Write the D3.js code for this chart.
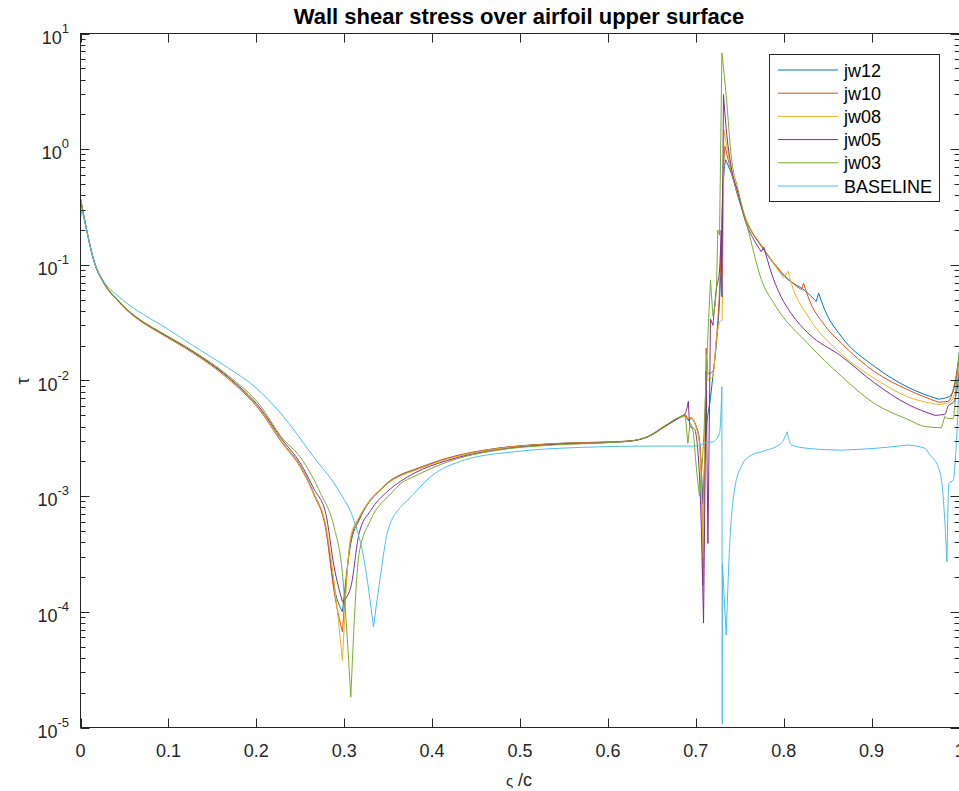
<!DOCTYPE html>
<html>
<head>
<meta charset="utf-8">
<script src="https://cdn.jsdelivr.net/npm/d3@7"></script>
<style>
  html, body { margin: 0; padding: 0; background: #fff; }
  svg { display: block; font-family: "Liberation Sans", Arial, Helvetica, sans-serif; }
</style>
</head>
<body>
<svg id="chart" width="959" height="791"></svg>
<script>
// ---------------- DATA ----------------
const seriesNames = ["jw12", "jw10", "jw08", "jw05", "jw03", "BASELINE"];
const seriesColors = ["#0072BD", "#D95319", "#EDB120", "#7E2F8E", "#77AC30", "#4DBEEE"];
const xTicks = [0, 0.1, 0.2, 0.3, 0.4, 0.5, 0.6, 0.7, 0.8, 0.9, 1];
const xTickLabels = ["0", "0.1", "0.2", "0.3", "0.4", "0.5", "0.6", "0.7", "0.8", "0.9", "1"];
const yExponents = [-5, -4, -3, -2, -1, 0, 1];

const jw12 = [[0,0.37],[0.0076,0.189],[0.015,0.110],[0.0266,0.0698],[0.0418,0.0498],[0.053,0.0407],[0.072,0.0315],[0.091,0.0258],[0.129,0.0173],[0.167,0.0107],[0.205,0.0055],[0.2278,0.00305],[0.2506,0.0018],[0.2657,0.00105],[0.279,0.00054],[0.2885,0.000164],[0.298,0.0001],[0.3075,0.00039],[0.317,0.00062],[0.330,0.00092],[0.3417,0.00113],[0.3493,0.00129],[0.3645,0.00152],[0.3796,0.00168],[0.4176,0.00212],[0.4746,0.00259],[0.5315,0.00282],[0.607,0.00295],[0.6264,0.0030],[0.6454,0.00326],[0.6644,0.00398],[0.6834,0.00486],[0.688,0.0050],[0.6915,0.0045],[0.6948,0.0047],[0.7005,0.00398],[0.7042,0.0030],[0.7081,0.00086],[0.7118,0.0035],[0.7167,0.0071],[0.7195,0.011],[0.7232,0.02],[0.727,0.05],[0.7289,0.11],[0.7308,0.42],[0.7338,0.81],[0.7403,0.62],[0.748,0.39],[0.7555,0.262],[0.778,0.133],[0.805,0.0745],[0.824,0.06],[0.837,0.0483],[0.8397,0.057],[0.8466,0.041],[0.8656,0.024],[0.9035,0.0132],[0.9415,0.00873],[0.9757,0.0069],[0.9871,0.0072],[0.9928,0.0081],[1.0,0.018]];

const jw10 = [[0,0.375],[0.0076,0.19],[0.015,0.109],[0.0266,0.069],[0.0418,0.0494],[0.053,0.0403],[0.072,0.0312],[0.091,0.0255],[0.129,0.0171],[0.167,0.0105],[0.205,0.0054],[0.2278,0.0030],[0.2506,0.00175],[0.2657,0.00102],[0.279,0.00052],[0.2885,0.00015],[0.298,0.000067],[0.3075,0.00042],[0.317,0.00064],[0.330,0.00094],[0.3417,0.00115],[0.3493,0.00131],[0.3645,0.00154],[0.3796,0.0017],[0.4176,0.00214],[0.4746,0.0026],[0.5315,0.00283],[0.607,0.00296],[0.6264,0.00301],[0.6454,0.00327],[0.6644,0.004],[0.6834,0.0049],[0.688,0.0051],[0.6915,0.0046],[0.6948,0.0048],[0.7005,0.004],[0.7042,0.003],[0.707,0.001],[0.7081,0.00017],[0.7118,0.019],[0.7138,0.0114],[0.7195,0.012],[0.7232,0.022],[0.727,0.06],[0.7289,0.15],[0.7308,0.5],[0.7331,1.06],[0.7403,0.64],[0.748,0.40],[0.7555,0.265],[0.778,0.135],[0.805,0.0755],[0.820,0.061],[0.8227,0.069],[0.8277,0.053],[0.8466,0.03],[0.8656,0.021],[0.9035,0.0119],[0.9415,0.0083],[0.9757,0.0065],[0.9871,0.0066],[0.9928,0.0083],[1.0,0.016]];

const jw08 = [[0,0.37],[0.0076,0.19],[0.015,0.109],[0.0266,0.0692],[0.0418,0.0496],[0.053,0.0405],[0.072,0.0313],[0.091,0.0256],[0.129,0.0172],[0.167,0.0106],[0.205,0.0055],[0.2278,0.00305],[0.2506,0.00178],[0.2657,0.00104],[0.279,0.00056],[0.2885,0.00018],[0.298,0.000038],[0.3075,0.00045],[0.317,0.00066],[0.330,0.00093],[0.3417,0.00113],[0.3493,0.00128],[0.3645,0.0015],[0.3796,0.00166],[0.4176,0.0021],[0.4746,0.00257],[0.5315,0.0028],[0.607,0.00294],[0.6264,0.003],[0.6454,0.00325],[0.6644,0.00395],[0.6834,0.0048],[0.688,0.0049],[0.6915,0.0047],[0.6948,0.0047],[0.7005,0.0039],[0.7042,0.0028],[0.7081,0.0003],[0.7118,0.017],[0.7138,0.01],[0.7195,0.011],[0.724,0.025],[0.7289,0.033],[0.7297,0.033],[0.732,1.48],[0.7403,0.66],[0.748,0.41],[0.7555,0.27],[0.778,0.136],[0.8,0.077],[0.8049,0.088],[0.8087,0.069],[0.8277,0.036],[0.8656,0.017],[0.9035,0.0104],[0.9415,0.0072],[0.9757,0.0062],[0.9871,0.0064],[0.995,0.0078],[1.0,0.014]];

const jw05 = [[0,0.37],[0.0076,0.19],[0.015,0.11],[0.0266,0.07],[0.0418,0.05],[0.053,0.0409],[0.072,0.0317],[0.091,0.026],[0.129,0.0175],[0.167,0.0109],[0.205,0.0057],[0.2278,0.0032],[0.2506,0.0019],[0.2657,0.00115],[0.279,0.00071],[0.2885,0.000245],[0.298,0.000122],[0.3075,0.000164],[0.317,0.00048],[0.330,0.00075],[0.3493,0.0011],[0.3645,0.00135],[0.3796,0.00158],[0.4176,0.00204],[0.4746,0.00252],[0.5315,0.00278],[0.607,0.00293],[0.6264,0.003],[0.6454,0.00326],[0.6644,0.004],[0.6834,0.0049],[0.688,0.0052],[0.6915,0.0066],[0.6935,0.004],[0.6985,0.0038],[0.7042,0.0015],[0.7088,0.00008],[0.7118,0.012],[0.7128,0.002],[0.7138,0.00039],[0.7167,0.034],[0.7195,0.03],[0.7232,0.06],[0.727,0.09],[0.7289,0.2],[0.7297,0.053],[0.7315,2.97],[0.7346,1.5],[0.7403,0.7],[0.748,0.42],[0.7555,0.25],[0.766,0.165],[0.7745,0.13],[0.7775,0.142],[0.786,0.085],[0.797,0.053],[0.8087,0.0379],[0.8277,0.0257],[0.8656,0.0162],[0.9035,0.0095],[0.9415,0.0062],[0.9719,0.005],[0.9833,0.0051],[0.987,0.006],[0.994,0.0066],[1.0,0.012]];

const jw03 = [[0,0.38],[0.0076,0.192],[0.015,0.112],[0.0266,0.0705],[0.0418,0.0503],[0.053,0.0412],[0.072,0.032],[0.091,0.0263],[0.129,0.0178],[0.167,0.0112],[0.205,0.006],[0.2278,0.0033],[0.2525,0.00205],[0.2733,0.00105],[0.2885,0.00054],[0.298,0.000214],[0.3075,0.0000183],[0.317,0.00032],[0.330,0.00062],[0.353,0.00105],[0.3645,0.00129],[0.3796,0.00148],[0.4176,0.00198],[0.4746,0.0025],[0.5315,0.00275],[0.607,0.00292],[0.6264,0.003],[0.6454,0.00328],[0.6644,0.00405],[0.6834,0.0049],[0.688,0.005],[0.691,0.00286],[0.6935,0.0043],[0.697,0.0036],[0.7005,0.0018],[0.7042,0.001],[0.7088,0.003],[0.712,0.012],[0.7167,0.074],[0.7195,0.036],[0.7232,0.06],[0.725,0.2],[0.727,0.18],[0.7297,6.8],[0.7346,2.9],[0.7403,0.87],[0.748,0.45],[0.7555,0.262],[0.7585,0.215],[0.7745,0.075],[0.79,0.045],[0.8277,0.0208],[0.8656,0.0109],[0.9035,0.0063],[0.9415,0.0046],[0.9605,0.004],[0.9795,0.0039],[0.9833,0.0049],[0.9871,0.0047],[0.9928,0.0047],[0.9966,0.0095],[1.0,0.018]];

const baseline = [[0,0.25],[0.0015,0.30],[0.0076,0.19],[0.015,0.11],[0.0266,0.0715],[0.0418,0.0545],[0.072,0.037],[0.091,0.0305],[0.129,0.0198],[0.167,0.013],[0.2,0.0086],[0.2278,0.0052],[0.266,0.00215],[0.296,0.00105],[0.311,0.00062],[0.3227,0.00028],[0.3333,0.000074],[0.3417,0.000215],[0.349,0.00048],[0.3645,0.00081],[0.372,0.00092],[0.3986,0.00148],[0.4366,0.00205],[0.4935,0.00242],[0.5695,0.00264],[0.645,0.00271],[0.6985,0.00271],[0.7042,0.00275],[0.7118,0.0029],[0.7194,0.00295],[0.727,0.00349],[0.7297,0.00883],[0.7301,0.0000107],[0.7303,0.00026],[0.7346,0.000063],[0.7384,0.00036],[0.744,0.00113],[0.7517,0.0018],[0.763,0.00226],[0.7745,0.00242],[0.797,0.00286],[0.804,0.0036],[0.8087,0.00277],[0.8277,0.00259],[0.8656,0.0025],[0.9035,0.00259],[0.9415,0.00277],[0.9605,0.00259],[0.968,0.00219],[0.972,0.00205],[0.9795,0.00138],[0.983,0.00066],[0.9857,0.00027],[0.988,0.00129],[0.9928,0.00138],[0.9966,0.00305],[1.0,0.012]];

const allSeries = [jw12, jw10, jw08, jw05, jw03, baseline];

// ---------------- LAYOUT ----------------
const W = 959, H = 791;
const plot = { left: 80.5, right: 959.5, top: 33.5, bottom: 727.5 };
const axisColor = "#262626";

const svg = d3.select("#chart");
const x = d3.scaleLinear().domain([0, 1]).range([plot.left, plot.right]);
const y = d3.scaleLog().domain([1e-5, 10]).range([plot.bottom, plot.top]);

svg.append("rect").attr("width", W).attr("height", H).attr("fill", "#fff");

svg.append("defs").append("clipPath").attr("id", "clip")
  .append("rect").attr("x", plot.left).attr("y", plot.top)
  .attr("width", plot.right - plot.left).attr("height", plot.bottom - plot.top);

// lines: smooth between points, sharp corners at local peaks/dips
const line = d3.line().x(d => x(d[0])).y(d => y(d[1])).curve(d3.curveMonotoneX);
function pieces(s) {
  const out = [];
  let start = 0;
  for (let i = 1; i < s.length - 1; i++) {
    const a = s[i][1] - s[i - 1][1], b = s[i + 1][1] - s[i][1];
    if (a * b < 0) { out.push(s.slice(start, i + 1)); start = i; }
  }
  out.push(s.slice(start));
  return out;
}
const gLines = svg.append("g").attr("clip-path", "url(#clip)");
allSeries.forEach((s, i) => {
  gLines.append("path")
    .attr("d", pieces(s).map(p => line(p)).join(""))
    .attr("fill", "none")
    .attr("stroke", seriesColors[i])
    .attr("stroke-width", 1)
    .attr("stroke-linejoin", "miter");
});

// axes box
const gAx = svg.append("g").attr("stroke", axisColor).attr("fill", "none");
gAx.append("rect")
  .attr("x", plot.left).attr("y", plot.top)
  .attr("width", plot.right - plot.left).attr("height", plot.bottom - plot.top)
  .attr("stroke-width", 1);

// x ticks (bottom & top, inward)
const majLen = 9, minLen = 5;
xTicks.forEach(t => {
  const px = Math.round(x(t)) + 0.5;
  gAx.append("line").attr("x1", px).attr("x2", px).attr("y1", plot.bottom).attr("y2", plot.bottom - majLen);
  gAx.append("line").attr("x1", px).attr("x2", px).attr("y1", plot.top).attr("y2", plot.top + majLen);
});
// y ticks (left & right, inward)
yExponents.forEach((e, k) => {
  const v = Math.pow(10, e);
  const py = Math.round(y(v)) + 0.5;
  gAx.append("line").attr("x1", plot.left).attr("x2", plot.left + majLen).attr("y1", py).attr("y2", py);
  gAx.append("line").attr("x1", plot.right).attr("x2", plot.right - majLen).attr("y1", py).attr("y2", py);
  if (k < yExponents.length - 1) {
    for (let m = 2; m <= 9; m++) {
      const pm = Math.round(y(m * v)) + 0.5;
      gAx.append("line").attr("x1", plot.left).attr("x2", plot.left + minLen).attr("y1", pm).attr("y2", pm);
      gAx.append("line").attr("x1", plot.right).attr("x2", plot.right - minLen).attr("y1", pm).attr("y2", pm);
    }
  }
});

// tick labels
const gT = svg.append("g").attr("fill", axisColor).attr("font-size", 18);
xTicks.forEach((t, i) => {
  gT.append("text").attr("x", x(t)).attr("y", plot.bottom + 29)
    .attr("text-anchor", "middle").text(xTickLabels[i]);
});
yExponents.forEach(e => {
  const py = y(Math.pow(10, e));
  const tx = gT.append("text").attr("x", 69).attr("y", py + 10).attr("text-anchor", "end");
  tx.append("tspan").text("10");
  tx.append("tspan").attr("font-size", 13).attr("dy", -11).text(e < 0 ? "-" + Math.abs(e) : String(e));
});

// title
svg.append("text").attr("x", (plot.left + plot.right) / 2 - 1).attr("y", 24)
  .attr("text-anchor", "middle").attr("font-weight", "bold").attr("font-size", 22)
  .attr("fill", "#000").text("Wall shear stress over airfoil upper surface");

// axis labels
svg.append("text").attr("x", 519).attr("y", 786).attr("text-anchor", "middle")
  .attr("font-size", 18).attr("fill", axisColor)
  .html('<tspan font-size="15">ς</tspan> /c');
svg.append("text").attr("transform", "translate(29,381) rotate(-90)")
  .attr("text-anchor", "middle").attr("font-size", 18).attr("fill", axisColor).text("τ");

// legend
const lg = { x: 769.5, y: 54.5, w: 170, h: 147 };
const gL = svg.append("g");
gL.append("rect").attr("x", lg.x).attr("y", lg.y).attr("width", lg.w).attr("height", lg.h)
  .attr("fill", "#fff").attr("stroke", axisColor).attr("stroke-width", 1);
seriesNames.forEach((n, i) => {
  const ry = 70 + i * 23.2;
  gL.append("line").attr("x1", 778).attr("x2", 838).attr("y1", ry).attr("y2", ry)
    .attr("stroke", seriesColors[i]).attr("stroke-width", 1);
  gL.append("text").attr("x", 844).attr("y", ry + 6.5).attr("font-size", 18)
    .attr("fill", "#000").text(n);
});
</script>
</body>
</html>
